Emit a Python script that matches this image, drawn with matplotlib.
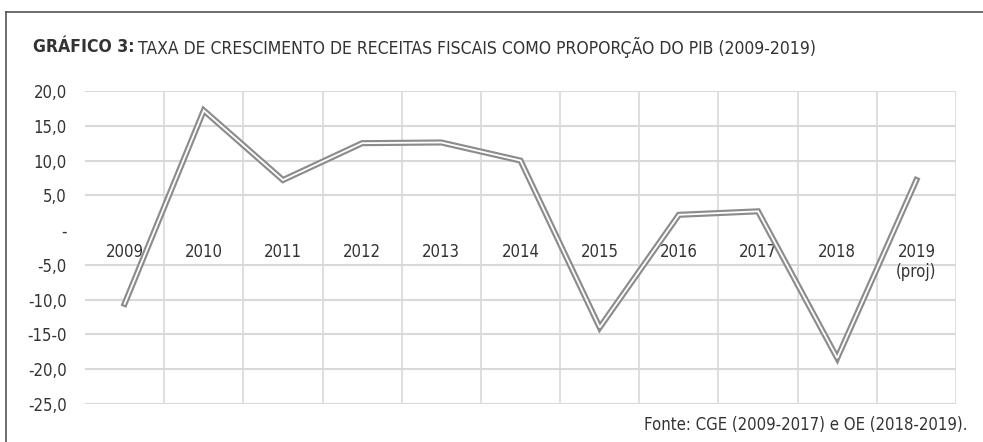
import matplotlib
matplotlib.use("Agg")
import matplotlib.pyplot as plt
from matplotlib.lines import Line2D
import matplotlib.font_manager as fm

years = ["2009", "2010", "2011", "2012", "2013", "2014", "2015", "2016", "2017", "2018", "2019\n(proj)"]
values = [-10.6, 17.2, 7.2, 12.5, 12.6, 10.0, -14.0, 2.2, 2.7, -18.4, 7.2]
ytick_values = [20, 15, 10, 5, 0, -5, -10, -15, -20, -25]
ytick_labels = ["20,0", "15,0", "10,0", "5,0", "-", "-5,0", "-10,0", "-15-0", "-20,0", "-25,0"]

# look for a condensed face; fall back to the default family
cond_reg, cond_bold = None, None
for f in fm.fontManager.ttflist:
    nm = (f.name + " " + f.fname).lower()
    is_cond = ("condensed" in nm or "narrow" in nm or str(f.stretch).lower() in ("condensed", "semi-condensed", "extra-condensed"))
    if not is_cond or f.style != "normal":
        continue
    w = f.weight if isinstance(f.weight, int) else {"normal": 400, "regular": 400, "bold": 700}.get(str(f.weight), 400)
    if w in (400, 500) and cond_reg is None:
        cond_reg = f.fname
    if w >= 600 and cond_bold is None:
        cond_bold = f.fname

def fp(size, bold=False):
    if bold and cond_bold:
        return fm.FontProperties(fname=cond_bold, size=size)
    if cond_reg:
        return fm.FontProperties(fname=cond_reg, size=size, weight="bold" if bold else "normal")
    return fm.FontProperties(family="DejaVu Sans", size=size, weight="bold" if bold else "normal")

W, H = 983, 442
fig = plt.figure(figsize=(W / 100, H / 100), dpi=100)
txt = "#333333"

fig.add_artist(Line2D([6 / W, 6 / W], [0, 1 - 12 / H], transform=fig.transFigure, color="#555555", lw=1.2))
fig.add_artist(Line2D([6 / W, 1.0], [1 - 12 / H, 1 - 12 / H], transform=fig.transFigure, color="#555555", lw=1.2))

# title, scaled so it spans the same width as in the reference
def draw_title(size):
    a = fig.text(33 / W, 1 - 47 / H, "GRÁFICO 3:", fontproperties=fp(size, True), color=txt, va="center", ha="left")
    fig.canvas.draw()
    bb = a.get_window_extent()
    b = fig.text((bb.x1 + 3) / W, 1 - 47 / H,
                 "TAXA DE CRESCIMENTO DE RECEITAS FISCAIS COMO PROPORÇÃO DO PIB (2009-2019)",
                 fontproperties=fp(size), color=txt, va="center", ha="left")
    fig.canvas.draw()
    return a, b, b.get_window_extent().x1

size = 14
a, b, x1 = draw_title(size)
target = 822
if abs(x1 - target) > 4:
    new = min(16, size * (target - 33) / (x1 - 33))
    a.remove(); b.remove()
    draw_title(new)

left, right = 85 / W, 956 / W
bottom, top = 38 / H, 351 / H
ax = fig.add_axes([left, bottom, right - left, top - bottom])
n = len(years)
x = list(range(n))
ax.set_xlim(-0.5, n - 0.5)
ax.set_ylim(-25, 20)

for v in ytick_values:
    if v != 0:
        ax.axhline(v, color="#d9d9d9", lw=1.5, zorder=1)
for bnd in [i + 0.5 for i in range(n)]:
    ax.axvline(bnd, color="#d9d9d9", lw=1.2, zorder=1)

ax.plot(x, values, color="#8c8c8c", lw=4.4, solid_joinstyle="miter", zorder=3)
ax.plot(x, values, color="white", lw=1.3, solid_joinstyle="miter", zorder=4)

lab_size = 12 if cond_reg else 11
for xi, lab in zip(x, years):
    ax.annotate(lab, (xi, 0), xytext=(0, -9), textcoords="offset points", ha="center", va="top",
                fontproperties=fp(lab_size), color=txt, zorder=2, linespacing=1.2)

ax.set_yticks(ytick_values)
ax.set_yticklabels(ytick_labels, color=txt)
for t in ax.get_yticklabels():
    t.set_fontproperties(fp(lab_size))
ax.set_xticks([])
ax.tick_params(axis="y", length=0, pad=13)
for s in ax.spines.values():
    s.set_visible(False)

fig.text(968 / W, 1 - 425 / H, "Fonte: CGE (2009-2017) e OE (2018-2019).", fontproperties=fp(lab_size),
         color=txt, ha="right", va="center")

fig.savefig("out.png", dpi=100, facecolor="white")
